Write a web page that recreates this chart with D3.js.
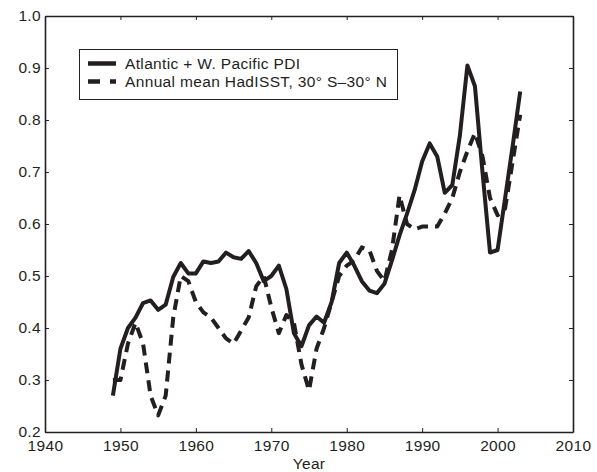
<!DOCTYPE html>
<html>
<head>
<meta charset="utf-8">
<script src="https://cdn.jsdelivr.net/npm/d3@7"></script>
<style>
  body { margin: 0; background: #fff; }
  svg text { font-family: "Liberation Sans", Arial, Helvetica, sans-serif; fill: #231f20; letter-spacing: 0.35px; }
</style>
</head>
<body>
<div id="chart"></div>
<script>
// years covered by both series
var years = d3.range(1949, 2004);

// Atlantic + W. Pacific PDI (normalised)
var pdi = [0.27, 0.36, 0.40, 0.42, 0.448, 0.453, 0.435, 0.445, 0.498, 0.525,
           0.505, 0.505, 0.528, 0.525, 0.528, 0.545, 0.536, 0.533, 0.548, 0.525,
           0.49, 0.50, 0.52, 0.475, 0.39, 0.365, 0.405, 0.422, 0.41, 0.45,
           0.525, 0.545, 0.52, 0.49, 0.472, 0.467, 0.485, 0.53, 0.578, 0.62,
           0.665, 0.72, 0.755, 0.73, 0.66, 0.675, 0.77, 0.905, 0.865, 0.70,
           0.545, 0.55, 0.65, 0.75, 0.855];

// Annual mean HadISST, 30S-30N (scaled)
var sst = [0.30, 0.30, 0.37, 0.41, 0.37, 0.27, 0.232, 0.27, 0.42, 0.50,
           0.49, 0.45, 0.43, 0.42, 0.40, 0.38, 0.37, 0.395, 0.42, 0.48,
           0.50, 0.44, 0.39, 0.425, 0.41, 0.33, 0.28, 0.36, 0.40, 0.45,
           0.50, 0.52, 0.53, 0.555, 0.55, 0.51, 0.49, 0.55, 0.655, 0.60,
           0.59, 0.595, 0.595, 0.595, 0.62, 0.65, 0.70, 0.74, 0.775, 0.73,
           0.65, 0.617, 0.63, 0.72, 0.81];

var x_ticks = [1940, 1950, 1960, 1970, 1980, 1990, 2000, 2010];
var y_ticks = [0.2, 0.3, 0.4, 0.5, 0.6, 0.7, 0.8, 0.9, 1.0];

var series_names = ['Atlantic + W. Pacific PDI', 'Annual mean HadISST, 30\u00b0 S\u201330\u00b0 N'];

var width = 597,
    height = 472,
    m_left = 45, m_right = 573, m_top = 16, m_bottom = 432,
    font_size = 15.5,
    ink = '#231f20';

var x = d3.scaleLinear().domain([1940, 2010]).range([m_left, m_right]);
var y = d3.scaleLinear().domain([0.2, 1.0]).range([m_bottom, m_top]);

var svg = d3.select('#chart').append('svg')
    .attr('width', width)
    .attr('height', height);

// axes, ticks pointing inward on all four sides
var fmt = d3.format('.1f');
var gx = svg.append('g').attr('transform', 'translate(0,' + m_bottom + ')')
    .call(d3.axisBottom(x).tickValues(x_ticks).tickFormat(d3.format('d')).tickSizeInner(-4).tickSizeOuter(0).tickPadding(8));
var gy = svg.append('g').attr('transform', 'translate(' + m_left + ',0)')
    .call(d3.axisLeft(y).tickValues(y_ticks).tickFormat(fmt).tickSizeInner(-4).tickSizeOuter(0).tickPadding(4));
var gt = svg.append('g').attr('transform', 'translate(0,' + m_top + ')')
    .call(d3.axisTop(x).tickValues(x_ticks).tickFormat('').tickSizeInner(-4).tickSizeOuter(0));
var gr = svg.append('g').attr('transform', 'translate(' + m_right + ',0)')
    .call(d3.axisRight(y).tickValues(y_ticks).tickFormat('').tickSizeInner(-4).tickSizeOuter(0));

[gx, gy, gt, gr].forEach(function(g) {
    g.selectAll('.domain').attr('stroke', ink).attr('stroke-width', 1.6);
    g.selectAll('.tick line').attr('stroke', ink).attr('stroke-width', 1);
    g.selectAll('.tick text').attr('font-size', font_size).attr('fill', ink)
        .style('font-family', '"Liberation Sans", Arial, sans-serif');
});

svg.append('text')
    .attr('x', (m_left + m_right) / 2)
    .attr('y', 469)
    .attr('text-anchor', 'middle')
    .attr('font-size', font_size)
    .text('Year');

// lines
var line = function(vals) {
    return d3.line()
        .x(function(d, i) { return x(years[i]); })
        .y(function(d) { return y(d); })(vals);
};

svg.append('path')
    .attr('d', line(sst))
    .attr('fill', 'none')
    .attr('stroke', ink)
    .attr('stroke-width', 4)
    .attr('stroke-dasharray', '11,7')
    .attr('stroke-linejoin', 'round');

svg.append('path')
    .attr('d', line(pdi))
    .attr('fill', 'none')
    .attr('stroke', ink)
    .attr('stroke-width', 4)
    .attr('stroke-linejoin', 'round');

// legend
var legend = svg.append('g');
legend.append('rect')
    .attr('x', 79.5).attr('y', 49.5)
    .attr('width', 318).attr('height', 50)
    .attr('fill', '#fff').attr('stroke', ink).attr('stroke-width', 1);

series_names.forEach(function(name, i) {
    var ly = 63.5 + i * 18;
    legend.append('line')
        .attr('x1', 88).attr('x2', 116)
        .attr('y1', ly).attr('y2', ly)
        .attr('stroke', ink).attr('stroke-width', 4.5)
        .attr('stroke-dasharray', i === 1 ? '12,10' : null);
    legend.append('text')
        .attr('x', 125).attr('y', ly + 5.5)
        .attr('font-size', font_size)
        .text(name);
});
</script>
</body>
</html>
